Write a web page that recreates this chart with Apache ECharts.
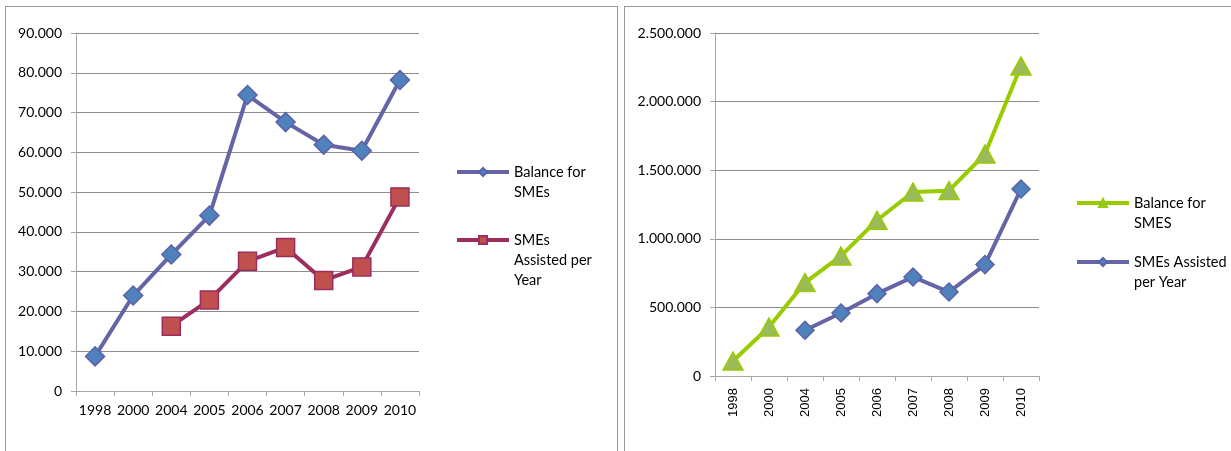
<!DOCTYPE html>
<html>
<head>
<meta charset="utf-8">
<script src="https://cdn.jsdelivr.net/npm/echarts@6/dist/echarts.min.js"></script>
<style>
  html, body { margin: 0; padding: 0; background: #fff; }
  body { width: 1231px; height: 451px; position: relative; overflow: hidden; }
  .frame { position: absolute; border: 1px solid #999; border-bottom: none; }
  .chart { position: absolute; top: 0; height: 451px; }
</style>
</head>
<body>
<div class="frame" style="left:5px; top:6px; width:611px; height:460px;"></div>
<div class="frame" style="left:624px; top:6px; width:640px; height:460px;"></div>
<div id="chartLeft" class="chart" style="left:0; width:620px;"></div>
<div id="chartRight" class="chart" style="left:620px; width:611px;"></div>
<script>
// Data
const years = ['1998', '2000', '2004', '2005', '2006', '2007', '2008', '2009', '2010']

const balanceLeft = [8700, 24000, 34300, 44100, 74400, 67600, 61900, 60400, 78200]
const assistedLeft = [null, null, 16300, 22900, 32600, 36100, 27800, 31200, 48800]

const balanceRight = [109000, 357000, 681000, 875000, 1135000, 1341000, 1351000, 1618000, 2259000]
const assistedRight = [null, null, 333000, 459000, 600000, 722000, 612000, 812000, 1363000]

// wrapped legend labels, as in the original
const legendLabels = {
    'Balance for SMEs': 'Balance for\nSMEs',
    'SMEs Assisted per Year': 'SMEs\nAssisted per\nYear',
    'Balance for SMES': 'Balance for\nSMES',
    'SMEs Assisted per Year ': 'SMEs Assisted\nper Year'
}

const FONT = 'Lato'
const LINE_H = 20

const dotThousands = v => String(v).replace(/\B(?=(\d{3})+(?!\d))/g, '.')

// one legend per item; blank lines on top push the text down so the
// icon sits beside the first text line (like Excel does)
const legendItem = (name, left, iconY) => {
    const lines = legendLabels[name].split('\n').length
    const boxH = (2 * lines - 1) * LINE_H
    return {
        data: [name],
        left: left,
        top: iconY - boxH / 2,
        padding: 0,
        itemWidth: 52,
        itemHeight: 10,
        selectedMode: false,
        lineStyle: { width: 4 },
        formatter: n => ' \n'.repeat(lines - 1) + legendLabels[n],
        textStyle: {
            fontFamily: FONT,
            fontSize: 14.5,
            color: '#000',
            lineHeight: LINE_H
        }
    }
}

const axisGray = '#a6a6a6'
const gridGray = '#8c8c8c'

const valueAxis = (max, interval) => ({
    type: 'value',
    min: 0,
    max: max,
    interval: interval,
    axisLine: { show: true, lineStyle: { color: axisGray, width: 1 } },
    axisTick: { show: true, length: 5, lineStyle: { color: axisGray } },
    splitLine: { lineStyle: { color: gridGray, width: 1 } },
    axisLabel: {
        formatter: dotThousands,
        fontFamily: FONT,
        fontSize: 14,
        color: '#000',
        margin: 14
    }
})

const categoryAxis = (labelOpts) => ({
    type: 'category',
    data: years,
    boundaryGap: true,
    axisLine: { lineStyle: { color: axisGray, width: 1 } },
    axisTick: { show: true, length: 5, alignWithLabel: false, lineStyle: { color: axisGray } },
    axisLabel: Object.assign({ color: '#000', fontSize: 13, interval: 0 }, labelOpts)
})

const leftChart = echarts.init(document.getElementById('chartLeft'))
leftChart.setOption({
    animation: false,
    grid: { left: 76, top: 33, width: 343, height: 358 },
    xAxis: categoryAxis({ fontFamily: FONT, fontSize: 14, margin: 12 }),
    yAxis: valueAxis(90000, 10000),
    legend: [
        legendItem('Balance for SMEs', 455, 172),
        legendItem('SMEs Assisted per Year', 455, 240)
    ],
    series: [
        {
            name: 'Balance for SMEs',
            type: 'line',
            data: balanceLeft,
            symbol: 'diamond',
            symbolSize: 19,
            lineStyle: { width: 4, color: '#6464a6' },
            itemStyle: { color: '#4f81bd', borderColor: '#5b62a8', borderWidth: 1.5 }
        },
        {
            name: 'SMEs Assisted per Year',
            type: 'line',
            data: assistedLeft,
            symbol: 'rect',
            symbolSize: 18,
            lineStyle: { width: 4, color: '#9b2d5f' },
            itemStyle: { color: '#c0504d', borderColor: '#9b2d5f', borderWidth: 1.5 }
        }
    ]
})

const rightChart = echarts.init(document.getElementById('chartRight'))
rightChart.setOption({
    animation: false,
    grid: { left: 95, top: 33, width: 324, height: 343 },
    xAxis: categoryAxis({ fontFamily: 'Liberation Sans', rotate: 90, margin: 12 }),
    yAxis: valueAxis(2500000, 500000),
    legend: [
        legendItem('Balance for SMES', 455, 203),
        legendItem('SMEs Assisted per Year ', 455, 262)
    ],
    series: [
        {
            name: 'Balance for SMES',
            type: 'line',
            data: balanceRight,
            symbol: 'triangle',
            symbolSize: [20, 18],
            lineStyle: { width: 4, color: '#99cc00' },
            itemStyle: { color: '#9bbb59', borderColor: '#99cc00', borderWidth: 1.5 }
        },
        {
            name: 'SMEs Assisted per Year ',
            type: 'line',
            data: assistedRight,
            symbol: 'diamond',
            symbolSize: 18,
            lineStyle: { width: 4, color: '#6464a6' },
            itemStyle: { color: '#4f81bd', borderColor: '#5b62a8', borderWidth: 1.5 }
        }
    ]
})
</script>
</body>
</html>
